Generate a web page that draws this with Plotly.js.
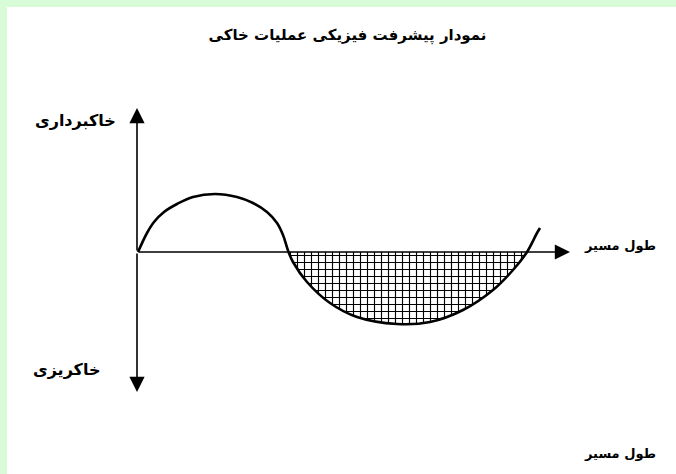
<!DOCTYPE html>
<html>
<head>
<meta charset="utf-8">
<script src="https://cdn.plot.ly/plotly-3.0.1.min.js"></script>
<style>
  html, body { margin: 0; padding: 0; background: #d8fcd8; }
  #chart { position: absolute; left: 7px; top: 7px; width: 669px; height: 467px; background: #fff; }
</style>
</head>
<body>
<div id="chart"></div>
<script>
// route length vs. earthwork (cut above axis, fill below)
let routeX = [1, 10, 17, 27, 40, 56, 78, 100, 116, 130, 140, 146, 151.5, 156, 170, 193, 220, 260, 293, 326, 356, 376, 390, 400, 403];
let earthY = [0, 19, 30, 40, 48, 55, 58, 55, 49, 40, 29, 17, 0, -10, -30, -51, -65, -72, -70, -58, -38, -18, 0, 19, 24];

let axisX = [0, 433];
let axisY = [-140, 144];

let titleText = 'نمودار پیشرفت فیزیکی عملیات خاکی';
let cutLabel = 'خاکبرداری';
let fillLabel = 'خاکریزی';
let routeLabel = 'طول مسیر';

let font = 'DejaVu Sans';

function buildPlot() {
    // pick the stretch below the axis (between the two zero crossings)
    let zeros = [];
    for (let i = 1; i < earthY.length; i++) {
        if (earthY[i] == 0) zeros.push(i);
    }
    let hatchX = routeX.slice(zeros[0], zeros[1] + 1);
    let hatchY = earthY.slice(zeros[0], zeros[1] + 1);

    let hatch = {
        x: hatchX,
        y: hatchY,
        mode: 'lines',
        line: { width: 0, shape: 'spline', smoothing: 1 },
        fill: 'tozeroy',
        fillcolor: 'white',
        fillpattern: { shape: '+', fgcolor: 'black', bgcolor: 'white', size: 7, solidity: 0.3 },
        hoverinfo: 'skip',
    };
    let curve = {
        x: routeX,
        y: earthY,
        mode: 'lines',
        line: { color: 'black', width: 2.6, shape: 'spline', smoothing: 1 },
    };

    let arrow = {
        showarrow: true,
        arrowhead: 2,
        arrowsize: 1.9,
        arrowwidth: 1.6,
        arrowcolor: 'black',
        axref: 'x',
        ayref: 'y',
        text: '',
    };
    let lbl = { showarrow: false, font: { family: font, size: 16, color: 'black', weight: 'bold' } };
    let lblSmall = { showarrow: false, font: { family: font, size: 13, color: 'black', weight: 'bold' } };

    let layout = {
        width: 669,
        height: 467,
        margin: { l: 0, r: 0, t: 0, b: 0 },
        paper_bgcolor: 'white',
        plot_bgcolor: 'white',
        showlegend: false,
        title: {
            text: titleText,
            font: { family: font, size: 15, color: 'black', weight: 'bold' },
            x: 0.509,
            xanchor: 'center',
            y: 0.94,
            yanchor: 'middle',
        },
        xaxis: { range: [-130, 539], visible: false, fixedrange: true },
        yaxis: { range: [-222, 245], visible: false, fixedrange: true },
        annotations: [
            Object.assign({ x: 0, y: axisY[1], ax: 0, ay: 0 }, arrow),
            Object.assign({ x: 0, y: axisY[0], ax: 0, ay: 0 }, arrow),
            Object.assign({ x: axisX[1], y: 0, ax: axisX[0], ay: 0 }, arrow),
            Object.assign({ x: -19, y: 132, xanchor: 'right', yanchor: 'middle', text: cutLabel }, lbl),
            Object.assign({ x: -35, y: -117, xanchor: 'right', yanchor: 'middle', text: fillLabel }, lbl),
            Object.assign({ x: 521, y: 7, xanchor: 'right', yanchor: 'middle', text: routeLabel }, lblSmall),
            Object.assign({ x: 521, y: -201, xanchor: 'right', yanchor: 'middle', text: routeLabel }, lblSmall),
        ],
    };

    Plotly.newPlot('chart', [hatch, curve], layout, { displayModeBar: false, staticPlot: true });
}

window.onload = () => {
    buildPlot();
};
</script>
</body>
</html>
